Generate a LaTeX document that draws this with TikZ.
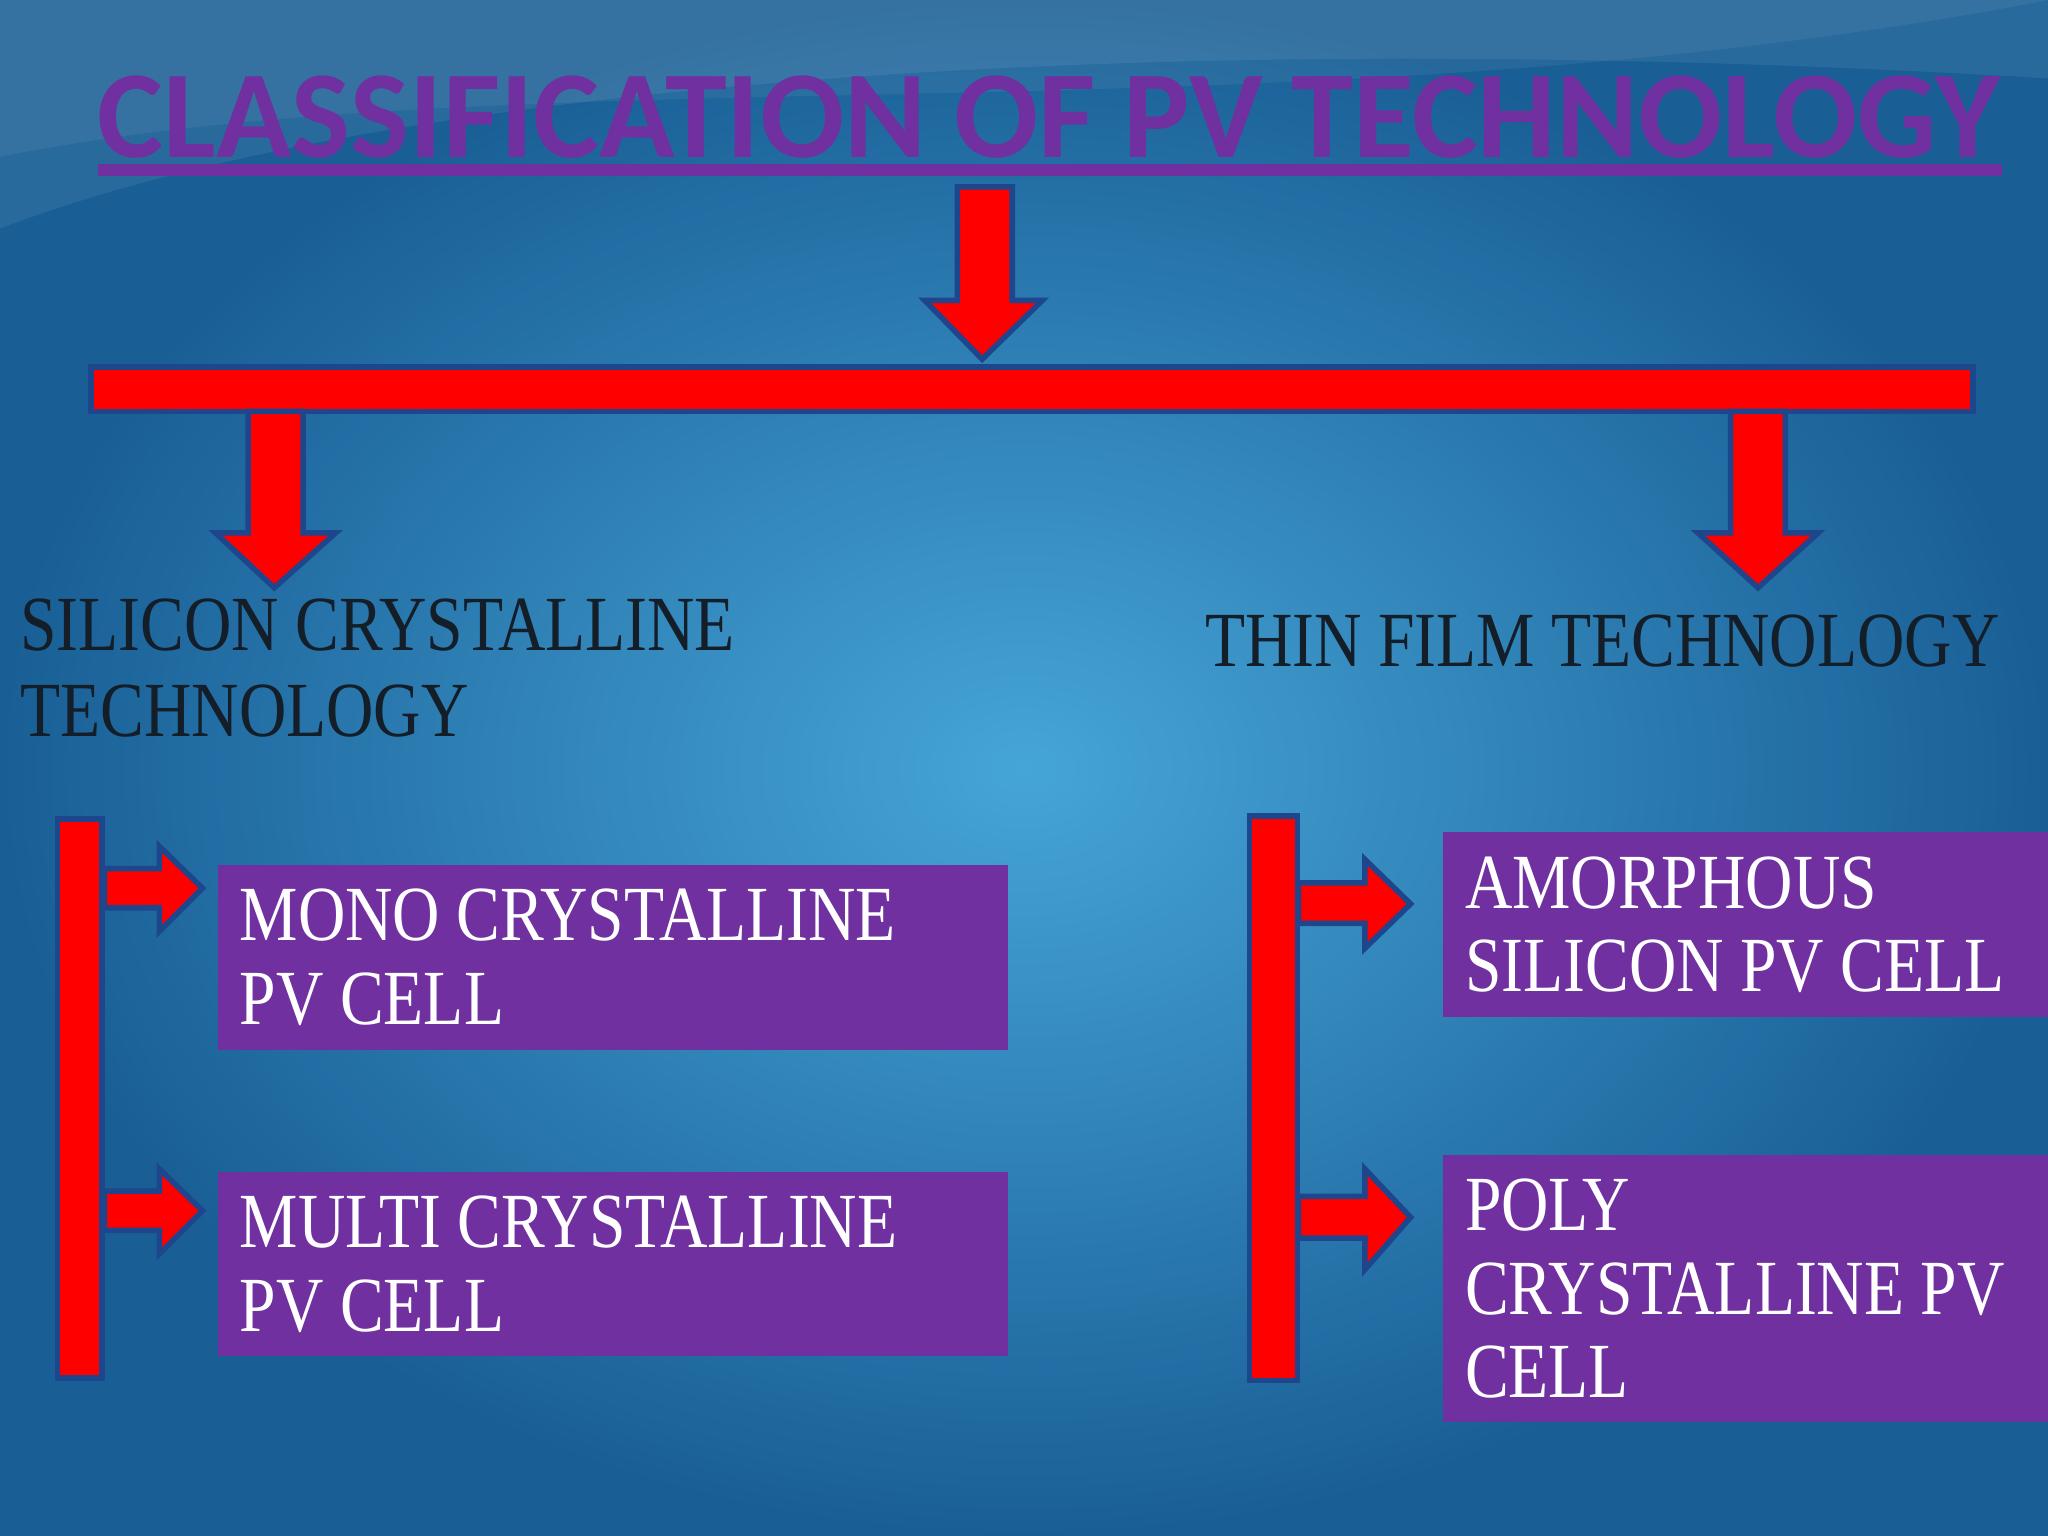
\documentclass[tikz,border=0pt]{standalone}
\usepackage{fontspec}
\setmainfont{Liberation Serif}[FakeStretch=0.84]
\newfontfamily\titlefont{Carlito}
\usepackage{graphicx}
\definecolor{bgout}{RGB}{25,95,150}
\definecolor{bgin}{RGB}{70,165,215}
\definecolor{pv}{RGB}{112,48,160}
\definecolor{edge}{RGB}{30,70,140}
\definecolor{dark}{RGB}{20,30,40}
\tikzset{
  redar/.style={fill=red,draw=edge,line width=1.2pt,line join=miter},
  box/.style={fill=pv,draw=none},
  boxtxt/.style={text=white,anchor=north west,align=left,font=\fontsize{17}{18.2}\selectfont,inner sep=0pt},
  lbl/.style={text=dark,anchor=north west,align=left,font=\fontsize{17}{18.2}\selectfont,inner sep=0pt}
}
\begin{document}
\begin{tikzpicture}[x=0.01cm,y=-0.01cm]
\useasboundingbox (0,0) rectangle (1568,1176);
\shade[inner color=bgin,outer color=bgout] (0,0) rectangle (1568,1176);
% top swirl
\fill[white,opacity=0.07] (0,175) .. controls (300,60) and (900,20) .. (1568,60) -- (1568,0) -- (0,0) -- cycle;
\fill[white,opacity=0.06] (0,120) .. controls (400,40) and (1000,110) .. (1568,0) -- (0,0) -- cycle;
% title
\node[inner sep=0pt,text=pv] (title) at (803,90) {\resizebox{14.55cm}{!}{\titlefont\bfseries CLASSIFICATION OF PV TECHNOLOGY}};
\draw[pv,line width=2.5pt] (75,130) -- (1533,130);
% main arrow
\draw[redar] (733,143) -- (775,143) -- (775,230) -- (798,230) -- (752,275) -- (708,230) -- (733,230) -- cycle;
\node[redar,minimum width=14.4cm,minimum height=0.34cm,inner sep=0pt] (bar) at (790,298) {};
\draw[redar] (190,315) -- (232,315) -- (232,408) -- (257,408) -- (210,450) -- (165,408) -- (190,408) -- cycle;
\draw[redar] (1325,315) -- (1367,315) -- (1367,408) -- (1392,408) -- (1346,450) -- (1300,408) -- (1325,408) -- cycle;
\node[lbl] (sil) at (15,458) {SILICON CRYSTALLINE\\[0.4pt]TECHNOLOGY};
\node[lbl] (thin) at (922,470) {THIN FILM TECHNOLOGY};
% left branch
\node[redar,minimum width=0.34cm,minimum height=4.28cm,inner sep=0pt] (lb) at (61,841) {};
\draw[redar] (80,665) -- (122,665) -- (122,648) -- (155,680) -- (122,713) -- (122,695) -- (80,695) -- cycle;
\draw[redar] (80,912) -- (122,912) -- (122,895) -- (155,927) -- (122,960) -- (122,942) -- (80,942) -- cycle;
\fill[box] (167,662) rectangle (772,804);
\fill[box] (167,897) rectangle (772,1038);
\node[boxtxt] (mono) at (183,680) {MONO CRYSTALLINE\\PV CELL};
\node[boxtxt] (multi) at (183,915) {MULTI CRYSTALLINE\\PV CELL};
% right branch
\node[redar,minimum width=0.37cm,minimum height=4.32cm,inner sep=0pt] (rb) at (975,841) {};
\draw[redar] (994,676) -- (1045,676) -- (1045,658) -- (1080,692) -- (1045,726) -- (1045,707) -- (994,707) -- cycle;
\draw[redar] (994,916) -- (1045,916) -- (1045,895) -- (1080,932) -- (1045,972) -- (1045,948) -- (994,948) -- cycle;
\fill[box] (1105,637) rectangle (1568,779);
\fill[box] (1105,884) rectangle (1568,1089);
\node[boxtxt] (amor) at (1121,655) {AMORPHOUS\\SILICON PV CELL};
\node[boxtxt] (poly) at (1121,902) {POLY\\CRYSTALLINE PV\\CELL};
\end{tikzpicture}
\end{document}
